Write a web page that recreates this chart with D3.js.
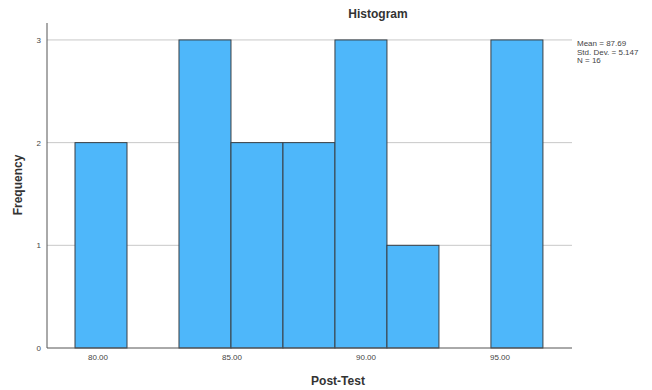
<!DOCTYPE html>
<html>
<head>
<meta charset="utf-8">
<script src="https://cdn.jsdelivr.net/npm/d3@7"></script>
<style>
  html, body { margin: 0; padding: 0; background: #fff; }
  svg { display: block; font-family: "Liberation Sans", Arial, sans-serif; }
</style>
</head>
<body>
<svg id="chart" width="652" height="390"></svg>
<script>
// Post-Test score histogram: bin edges and counts per bin
const binEdges = [79.16, 81.10, 83.04, 84.98, 86.92, 88.86, 90.80, 92.74, 94.68, 96.62];
const binCounts = [2, 0, 3, 2, 2, 3, 1, 0, 3];
const xTickValues = [80, 85, 90, 95];
const yTickValues = [0, 1, 2, 3];
const statsLines = ["Mean = 87.69", "Std. Dev. = 5.147", "N = 16"];

const bins = binCounts.map((c, i) => ({ x0: binEdges[i], x1: binEdges[i + 1], count: c }));

const svg = d3.select("#chart");
const plot = { left: 47, right: 572, top: 23, bottom: 348 };

const x = d3.scaleLinear().domain([78.115, 97.705]).range([plot.left, plot.right]);
const y = d3.scaleLinear().domain([0, 3.165]).range([plot.bottom, plot.top]);

// horizontal gridlines
svg.append("g")
  .selectAll("line")
  .data(yTickValues.filter(d => d > 0))
  .join("line")
  .attr("x1", plot.left).attr("x2", plot.right)
  .attr("y1", d => y(d)).attr("y2", d => y(d))
  .attr("stroke", "#c8c8c8").attr("stroke-width", 1);

// bars
svg.append("g")
  .selectAll("rect")
  .data(bins.filter(b => b.count > 0))
  .join("rect")
  .attr("x", d => x(d.x0))
  .attr("y", d => y(d.count))
  .attr("width", d => x(d.x1) - x(d.x0))
  .attr("height", d => y(0) - y(d.count))
  .attr("fill", "#4eb7fa")
  .attr("stroke", "#3a3f44")
  .attr("stroke-width", 1);

// y axis
const yAxis = d3.axisLeft(y).tickValues(yTickValues).tickFormat(d3.format("d")).tickSize(0).tickPadding(6);
const gy = svg.append("g").attr("transform", `translate(${plot.left},0)`).call(yAxis);
gy.select(".domain").attr("d", `M0,${plot.top}V${plot.bottom}`).attr("stroke", "#555");
gy.selectAll("text").attr("font-size", 8).attr("fill", "#444");

// x axis
const xAxis = d3.axisBottom(x).tickValues(xTickValues).tickFormat(d3.format(".2f")).tickSize(0).tickPadding(6);
const gx = svg.append("g").attr("transform", `translate(0,${plot.bottom})`).call(xAxis);
gx.select(".domain").attr("d", `M${plot.left},0H${plot.right}`).attr("stroke", "#555");
gx.selectAll("text").attr("font-size", 8).attr("fill", "#444");

// title and axis titles
svg.append("text")
  .attr("x", 378).attr("y", 18)
  .attr("text-anchor", "middle")
  .attr("font-size", 12).attr("font-weight", "bold").attr("fill", "#333")
  .text("Histogram");

svg.append("text")
  .attr("x", 338).attr("y", 385)
  .attr("text-anchor", "middle")
  .attr("font-size", 12).attr("font-weight", "bold").attr("fill", "#333")
  .text("Post-Test");

svg.append("text")
  .attr("transform", `translate(22,185) rotate(-90)`)
  .attr("text-anchor", "middle")
  .attr("font-size", 12).attr("font-weight", "bold").attr("fill", "#333")
  .text("Frequency");

// summary statistics
svg.append("g")
  .selectAll("text")
  .data(statsLines)
  .join("text")
  .attr("x", 577)
  .attr("y", (d, i) => 46 + i * 8.5)
  .attr("font-size", 8).attr("fill", "#444")
  .text(d => d);
</script>
</body>
</html>
